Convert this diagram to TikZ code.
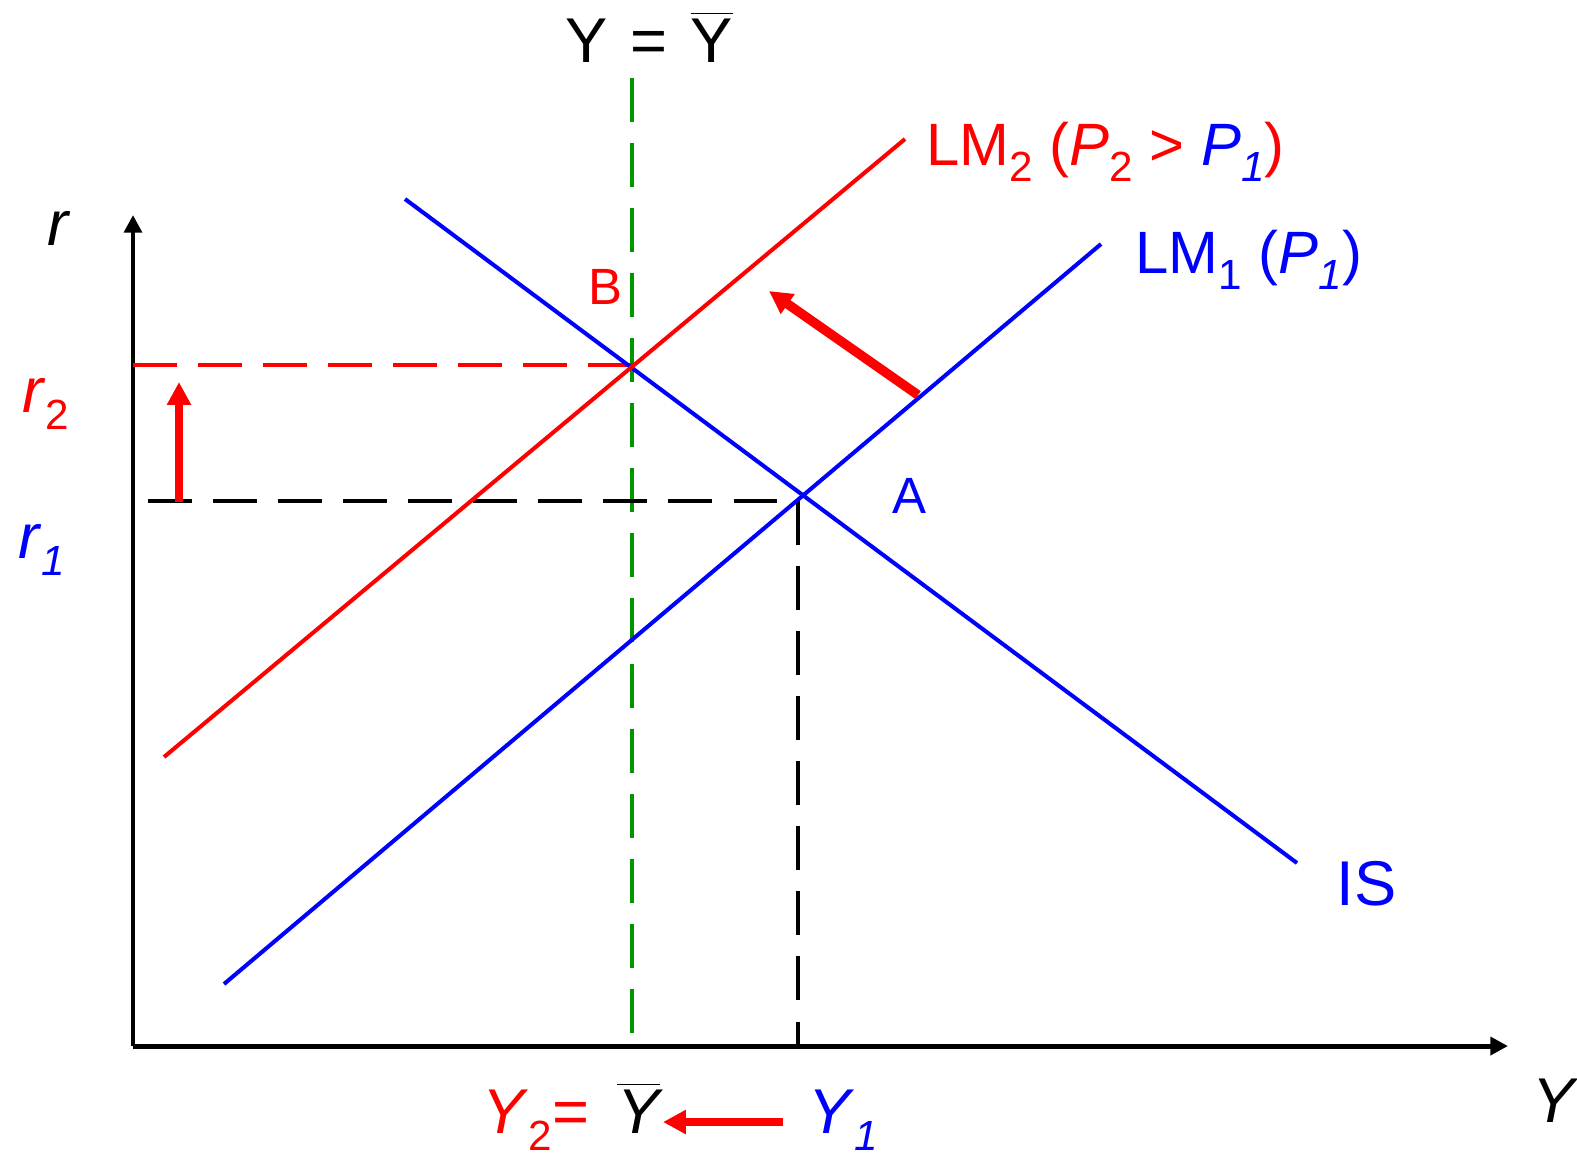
\documentclass[tikz,border=0pt]{standalone}
\usepackage{fontspec}
\setmainfont{Liberation Sans}
\usetikzlibrary{arrows.meta}
\definecolor{lmred}{RGB}{255,0,0}
\definecolor{lmblue}{RGB}{0,0,255}
\definecolor{fegreen}{RGB}{0,150,0}
\newcommand{\lblfont}{\fontsize{17}{20}\selectfont}
\newcommand{\sub}[1]{\raisebox{-0.28em}{\fontsize{12}{13}\selectfont #1}}
\newcommand{\ybar}{$\overline{\mbox{Y}}$}
\newcommand{\ybarit}{$\overline{\mbox{\itshape Y}}$}
\tikzset{
  axis/.style      = {line width=1.4pt, -{Triangle[length=5pt,width=5pt]}},
  curve/.style     = {line width=1.15pt},
  guide/.style     = {line width=1.35pt, dash pattern=on 12.5pt off 6pt},
  movearrow/.style = {line width=2.4pt, color=lmred, -{Triangle[length=6.5pt,width=6.5pt]}},
  lab/.style       = {font=\lblfont, inner sep=0pt, anchor=base west},
  pt/.style        = {font=\fontsize{14.5}{16}\selectfont, inner sep=0pt},
}

\begin{document}
\begin{tikzpicture}[x=0.01cm, y=-0.01cm]
  \useasboundingbox (0,0) rectangle (1577,1156);

  % axes
  \coordinate (O) at (133,1046);
  \coordinate (rtop) at (133,215);
  \coordinate (yend) at (1508,1046);
  \draw[axis] (O) -- (rtop);
  \draw[axis] (O) -- (yend);
  \node[lab, font=\fontsize{18}{20}\selectfont] (rlbl) at (47,245) {\itshape r};
  \node[lab, font=\fontsize{18}{20}\selectfont] (ylbl) at (1532,1122) {\itshape Y};

  % equilibrium points
  \coordinate (B) at (632,365);
  \coordinate (A) at (802,496);

  % guides
  \coordinate (gtop) at (632,78);
  \coordinate (gbot) at (632,1046);
  \draw[guide, fegreen] (gtop) -- (gbot);
  \coordinate (r2start) at (133,365);
  \draw[guide, lmred] (r2start) -- (B);
  \coordinate (r1start) at (148,501);
  \coordinate (r1end) at (800,501);
  \coordinate (y1top) at (798,501);
  \coordinate (y1bot) at (798,1046);
  \draw[guide] (r1start) -- (r1end);
  \draw[guide] (y1top) -- (y1bot);

  % curves
  \coordinate (is1) at (405,199);
  \coordinate (is2) at (1297,863);
  \coordinate (lma) at (224,984);
  \coordinate (lmb) at (1101,244);
  \coordinate (lmc) at (164,757);
  \coordinate (lmd) at (905,139);
  \draw[curve, lmblue] (is1) -- (is2);
  \draw[curve, lmblue] (lma) -- (lmb);
  \draw[curve, lmred] (lmc) -- (lmd);

  % shifts
  \coordinate (upfrom) at (179,502);
  \coordinate (upto) at (179,382);
  \draw[movearrow] (upfrom) -- (upto);
  \coordinate (lmfrom) at (918,395);
  \coordinate (lmto) at (769,291);
  \draw[movearrow, line width=2.7pt] (lmfrom) -- (lmto);
  \coordinate (outtail) at (783,1122);
  \coordinate (outhead) at (663,1122);
  \draw[movearrow] (outtail) -- (outhead);

  % labels
  \node[lab, font=\fontsize{18}{20}\selectfont] (eqlbl) at (565,62)
    {Y\hspace{1.5pt} = \hspace{1.5pt}\ybar};
  \node[lab, lmred] (lm2lbl) at (926,165)
    {LM\sub{2} (\textit{P}\sub{2} > \textcolor{lmblue}{\textit{P}\sub{\itshape 1}})};
  \node[lab, lmblue] (lm1lbl) at (1135,273) {LM\sub{1} (\textit{P}\sub{\itshape 1})};
  \node[lab, lmblue, font=\fontsize{18}{20}\selectfont] (islbl) at (1336,905) {IS};
  \node[pt, lmred] (blbl) at (605,287) {B};
  \node[pt, lmblue] (albl) at (909,496) {A};
  \node[lab, lmred, font=\fontsize{18}{20}\selectfont] (r2lbl) at (22,412) {\textit{r}\sub{2}};
  \node[lab, lmblue, font=\fontsize{18}{20}\selectfont] (r1lbl) at (18,558) {\textit{r}\sub{\itshape 1}};
  \node[lab, font=\fontsize{18}{20}\selectfont] (y2lbl) at (482,1133)
    {\textcolor{lmred}{\textit{Y}\sub{2}=}\hspace{8pt}\ybarit};
  \node[lab, lmblue, font=\fontsize{18}{20}\selectfont] (y1lbl) at (808,1133) {\textit{Y}\sub{\itshape 1}};
\end{tikzpicture}
\end{document}
